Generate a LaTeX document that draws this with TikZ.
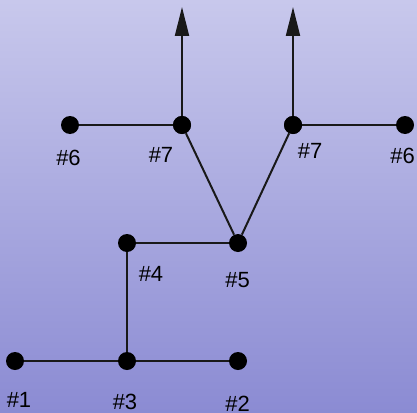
\documentclass[tikz,border=0pt]{standalone}
\usepackage{fontspec}
\setmainfont{Liberation Sans}
\usetikzlibrary{arrows.meta}
\definecolor{bgtop}{RGB}{200,200,236}
\definecolor{bgbot}{RGB}{139,139,211}
\tikzset{
  dot/.style={circle,fill=black,draw=none,minimum size=18pt,inner sep=0pt},
  lbl/.style={inner sep=0pt,font=\fontsize{22}{24}\selectfont},
  link/.style={line width=2pt,draw=black!90},
  up/.style={link,-{Triangle[length=29pt,width=14pt]}}
}
\begin{document}
\begin{tikzpicture}[x=1pt,y=-1pt]
\shade[top color=bgtop,bottom color=bgbot] (0,0) rectangle (417,412);
\useasboundingbox (0,0) rectangle (417,412);
\node[dot] (n1) at (15,361) {};
\node[dot] (n3) at (127,361) {};
\node[dot] (n2) at (238,361) {};
\node[dot] (n4) at (127,243) {};
\node[dot] (n5) at (238,243) {};
\node[dot] (n6a) at (70,125) {};
\node[dot] (n7a) at (182,125) {};
\node[dot] (n7b) at (293,125) {};
\node[dot] (n6b) at (405,125) {};
\coordinate (ta) at (182,7);
\coordinate (tb) at (293,7);
\draw[link] (n1) -- (n3);
\draw[link] (n3) -- (n2);
\draw[link] (n3) -- (n4);
\draw[link] (n4) -- (n5);
\draw[link] (n5) -- (n7a);
\draw[link] (n5) -- (n7b);
\draw[link] (n6a) -- (n7a);
\draw[link] (n7b) -- (n6b);
\draw[up] (n7a.center) -- (ta);
\draw[up] (n7b.center) -- (tb);
\node[dot] at (n7a) {};
\node[dot] at (n7b) {};
\node[lbl] (l1) at (19,400) {\#1};
\node[lbl] (l3) at (125,401.5) {\#3};
\node[lbl] (l2) at (237.5,403.5) {\#2};
\node[lbl] (l4) at (151,274) {\#4};
\node[lbl] (l5) at (237.5,280) {\#5};
\node[lbl] (l6a) at (68.5,158) {\#6};
\node[lbl] (l7a) at (161,155) {\#7};
\node[lbl] (l7b) at (310,150.5) {\#7};
\node[lbl] (l6b) at (402.5,156) {\#6};
\end{tikzpicture}
\end{document}
